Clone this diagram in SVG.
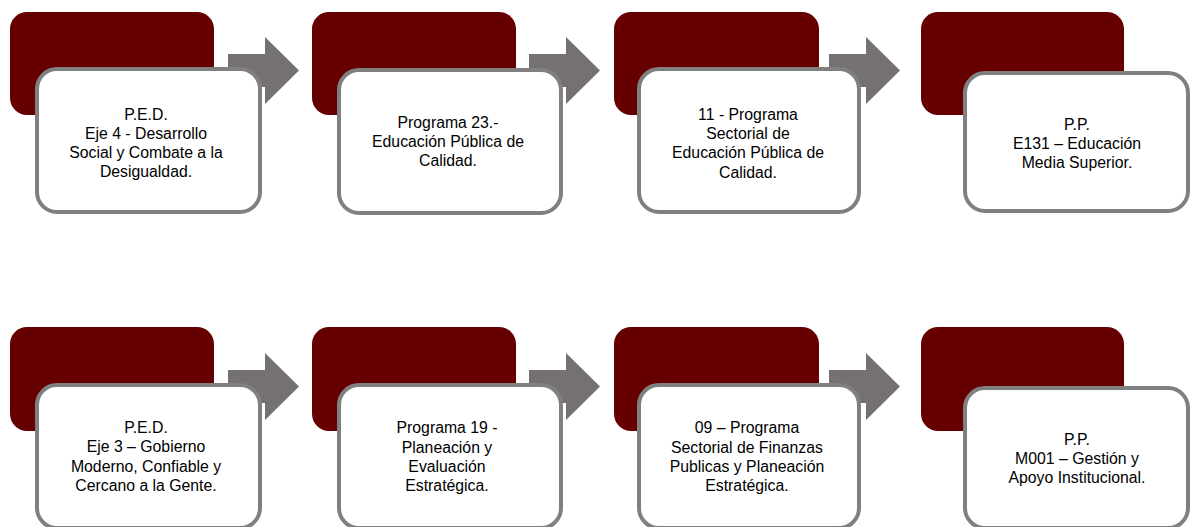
<svg xmlns="http://www.w3.org/2000/svg" width="1191" height="527" viewBox="0 0 1191 527">
<style>
.back{fill:#660000;}
.card{fill:#ffffff;stroke:#808080;stroke-width:4;}
.arrow{fill:#767171;}
.lbl{font-family:"Liberation Sans",Arial,sans-serif;font-size:15.8px;fill:#000000;text-anchor:middle;}
</style>
<rect width="1191" height="527" fill="#ffffff"/>
<g id="connectors">
<polygon class="arrow" points="228,54 265,54 265,37 299,70.5 265,104 265,87 228,87"/>
<polygon class="arrow" points="529,54 566,54 566,37 600,70.5 566,104 566,87 529,87"/>
<polygon class="arrow" points="829,54 866,54 866,37 900,70.5 866,104 866,87 829,87"/>
<polygon class="arrow" points="228,370 265,370 265,353 299,386.5 265,420 265,403 228,403"/>
<polygon class="arrow" points="529,370 566,370 566,353 600,386.5 566,420 566,403 529,403"/>
<polygon class="arrow" points="829,370 866,370 866,353 900,386.5 866,420 866,403 829,403"/>
</g>
<g id="node-ped-eje4">
<rect class="back" x="10" y="12" width="204" height="103" rx="17"/>
<rect class="card" x="37" y="69" width="223" height="143" rx="20"/>
<text class="lbl" x="146" y="120"><tspan x="146">P.E.D.</tspan><tspan x="146" dy="19">Eje 4 - Desarrollo</tspan><tspan x="146" dy="19">Social y Combate a la</tspan><tspan x="146" dy="19">Desigualdad.</tspan></text>
</g>
<g id="node-programa23">
<rect class="back" x="312" y="12" width="204" height="103" rx="17"/>
<rect class="card" x="339" y="70" width="222" height="143" rx="20"/>
<text class="lbl" x="448" y="128"><tspan x="448">Programa 23.-</tspan><tspan x="448" dy="19">Educación Pública de</tspan><tspan x="448" dy="19">Calidad.</tspan></text>
</g>
<g id="node-sectorial11">
<rect class="back" x="614" y="12" width="205" height="103" rx="17"/>
<rect class="card" x="639" y="69" width="220" height="143" rx="20"/>
<text class="lbl" x="748" y="120"><tspan x="748">11 - Programa</tspan><tspan x="748" dy="19">Sectorial de</tspan><tspan x="748" dy="19">Educación Pública de</tspan><tspan x="748" dy="19.5">Calidad.</tspan></text>
</g>
<g id="node-pp-e131">
<rect class="back" x="921" y="12" width="203" height="103" rx="17"/>
<rect class="card" x="965" y="73" width="223" height="138" rx="20"/>
<text class="lbl" x="1077" y="130"><tspan x="1077">P.P.</tspan><tspan x="1077" dy="19">E131 – Educación</tspan><tspan x="1077" dy="19">Media Superior.</tspan></text>
</g>
<g id="node-ped-eje3">
<rect class="back" x="10" y="327" width="204" height="104" rx="17"/>
<rect class="card" x="37" y="385" width="223" height="143" rx="20"/>
<text class="lbl" x="146" y="433"><tspan x="146">P.E.D.</tspan><tspan x="146" dy="19">Eje 3 – Gobierno</tspan><tspan x="146" dy="19.5">Moderno, Confiable y</tspan><tspan x="146" dy="19">Cercano a la Gente.</tspan></text>
</g>
<g id="node-programa19">
<rect class="back" x="312" y="327" width="204" height="104" rx="17"/>
<rect class="card" x="339" y="385" width="222" height="143" rx="20"/>
<text class="lbl" x="447" y="433"><tspan x="447">Programa 19 -</tspan><tspan x="447" dy="19.5">Planeación y</tspan><tspan x="447" dy="19">Evaluación</tspan><tspan x="447" dy="19.5">Estratégica.</tspan></text>
</g>
<g id="node-sectorial09">
<rect class="back" x="614" y="327" width="205" height="104" rx="17"/>
<rect class="card" x="639" y="385" width="220" height="143" rx="20"/>
<text class="lbl" x="747" y="433"><tspan x="747">09 – Programa</tspan><tspan x="747" dy="19.5">Sectorial de Finanzas</tspan><tspan x="747" dy="19">Publicas y Planeación</tspan><tspan x="747" dy="19.5">Estratégica.</tspan></text>
</g>
<g id="node-pp-m001">
<rect class="back" x="921" y="327" width="203" height="104" rx="17"/>
<rect class="card" x="965" y="388" width="223" height="140" rx="20"/>
<text class="lbl" x="1077" y="445"><tspan x="1077">P.P.</tspan><tspan x="1077" dy="19">M001 – Gestión y</tspan><tspan x="1077" dy="19">Apoyo Institucional.</tspan></text>
</g>
</svg>
